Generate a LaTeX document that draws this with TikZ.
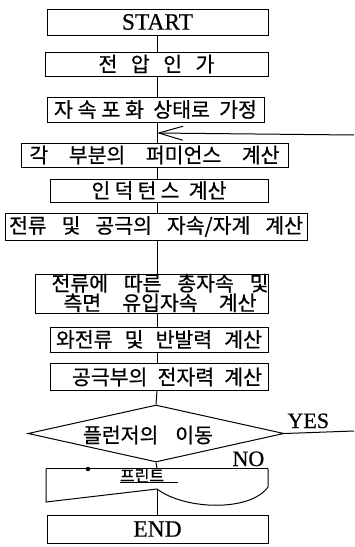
\documentclass[tikz,border=0pt]{standalone}
\usepackage{fontspec}
\usepackage{graphicx}
\newfontfamily\kr[FakeBold=0.6]{Noto Sans CJK KR}
\newfontfamily\lat[FakeBold=0.5]{Liberation Serif}
\usetikzlibrary{arrows.meta,shapes.geometric}
\newlength\ktw
\newcommand{\kt}[2]{\settowidth\ktw{#2}\ifdim\ktw>#1\relax\resizebox{#1}{\height}{#2}\else\makebox[#1][s]{#2}\fi}
\begin{document}
\begin{tikzpicture}[x=1pt,y=-1pt,line width=1pt,
  pbox/.style={draw,rectangle,inner sep=0pt,font=\kr\fontsize{20.5}{20.5}\selectfont},
  lbl/.style={inner sep=0pt,font=\kr\fontsize{20.5}{20.5}\selectfont},
  eng/.style={inner sep=0pt,font=\lat\fontsize{22}{22}\selectfont},
  latbox/.style={pbox,font=\lat\fontsize{23.5}{23.5}\selectfont}]
\useasboundingbox (0,0) rectangle (354,547);
% boxes
\node[latbox,minimum width=221pt,minimum height=26pt] (start) at (157.5,22) {START};
\node[pbox,minimum width=223pt,minimum height=24pt] (volt) at (156.5,64) {\kt{116pt}{전 압 인 가}};
\node[pbox,minimum width=217pt,minimum height=25pt] (sat) at (155.5,109.5) {\kt{203pt}{\makebox[90pt]{자\hfill 속\hfill 포\hfill 화} 상태로 가정}};
\node[pbox,minimum width=267pt,minimum height=24pt] (perm) at (154.5,155) {\kt{250pt}{각 부분의 퍼미언스 계산}};
\node[pbox,minimum width=218pt,minimum height=23pt] (ind) at (159,190.5) {\kt{135pt}{\makebox[88pt]{인\hfill 덕\hfill 턴\hfill 스} 계산}};
\node[pbox,minimum width=302pt,minimum height=27pt] (flux) at (156,226.5) {\kt{294pt}{전류 및 공극의 자속/자계 계산}};
\node[pbox,minimum width=233pt,minimum height=39pt] (tot) at (151.5,293.5) {};
\node[lbl,align=center,font=\kr\fontsize{20.5}{17}\selectfont] (tott) at (160,293) {\kt{217pt}{전류에 따른 총자속 및}\\\kt{193pt}{측면 유입자속 계산}};
\node[pbox,minimum width=218pt,minimum height=25pt] (eddy) at (159,339.5) {\kt{206pt}{와전류 및 반발력 계산}};
\node[pbox,minimum width=218pt,minimum height=27pt] (force) at (159,376.5) {};
\node[lbl] (forcet) at (167,377) {\kt{190pt}{공극부의 전자력 계산}};
% decision
\node[draw,diamond,minimum width=256pt,minimum height=57pt,inner sep=0pt] (dec) at (156,433.5) {};
\node[lbl] (dect) at (148,435) {\kt{130pt}{플런저의 이동}};
\node[eng,anchor=base west] (yes) at (287,428) {YES};
\node[eng,anchor=base west] (no) at (232,466) {NO};
% print document shape
\coordinate (pTL) at (46,468.5);
\coordinate (pTR) at (268,468.5);
\coordinate (pRB) at (268,487);
\coordinate (pMid) at (157,489);
\coordinate (pLB) at (46,502);
\draw (pTR) -- (pRB) .. controls (250,512) and (185,510) .. (pMid) -- (pLB) -- (pTL);
\draw[line width=1.2pt] (pTL) -- (pTR);
\node[lbl,font=\kr\fontsize{16}{16}\selectfont] (prt) at (149,475.5) {\kt{58pt}{프린트}};
\coordinate (ulA) at (120,482.5);
\coordinate (ulB) at (178,482.5);
\draw[line width=0.8pt] (ulA) -- (ulB);
\fill (88,469) circle (2.2pt);
\node[latbox,minimum width=221pt,minimum height=28pt] (end) at (157.5,529) {END};
% connectors
\coordinate (fbT) at (157,133);
\coordinate (fbR) at (354,135);
\coordinate (yesR) at (354,431);
\draw (157,0 |- start.south) -- (157,0 |- volt.north);
\draw (157,0 |- volt.south) -- (157,0 |- sat.north);
\draw (157,0 |- sat.south) -- (157,0 |- perm.north);
\draw (157,0 |- perm.south) -- (157,0 |- ind.north);
\draw (157,0 |- ind.south) -- (157,0 |- flux.north);
\draw (157,0 |- flux.south) -- (157,0 |- tot.north);
\draw (157,0 |- tot.south) -- (157,0 |- eddy.north);
\draw (157,0 |- eddy.south) -- (157,0 |- force.north);
\draw (157,0 |- force.south) -- (dec.north);
\draw (dec.south) -- (157,0 |- pTL);
\draw (pMid) -- (157,0 |- end.north);
\draw[-{Straight Barb[length=24pt,width=14pt,line width=1pt]}] (fbR) -- (fbT);
\draw (dec.east) -- (yesR);
\end{tikzpicture}
\end{document}
